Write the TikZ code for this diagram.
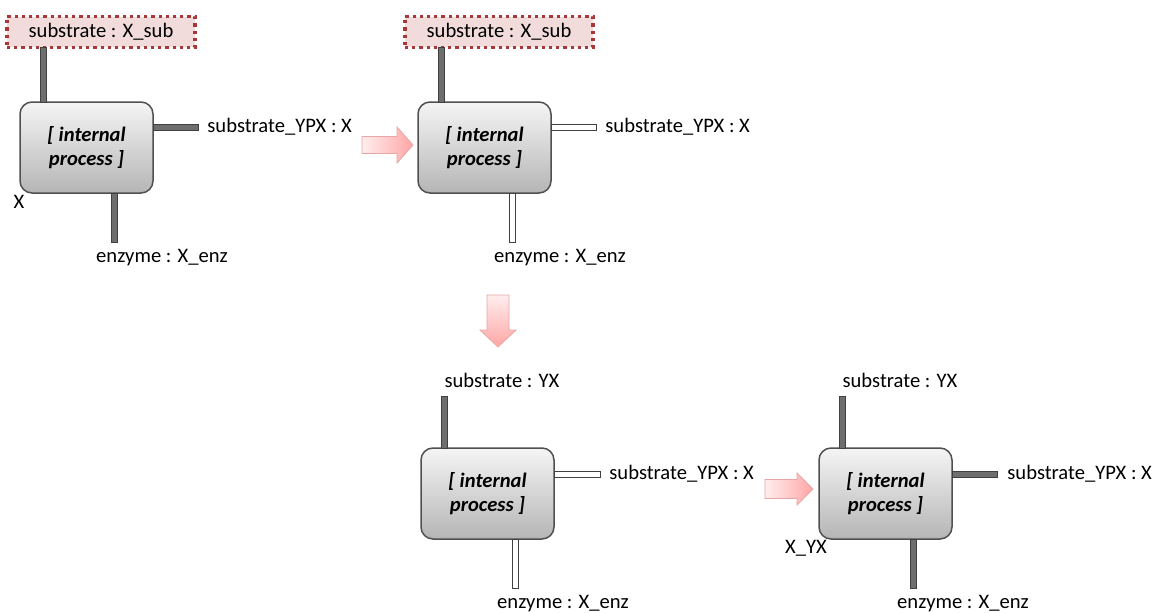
\documentclass[tikz,border=0pt]{standalone}
\usepackage{fontspec}
\setmainfont{Carlito}
\usepackage{tikz}

\definecolor{portdark}{HTML}{6E6E6E}
\definecolor{portline}{HTML}{404040}
\definecolor{boxline}{HTML}{505050}
\definecolor{subfill}{HTML}{F2DCDB}
\definecolor{subline}{HTML}{A83838}
\definecolor{arrowline}{HTML}{E8A6A6}

\tikzset{
	process/.style={draw=boxline,line width=0.75pt,rounded corners=6pt,
		top color=gray!8,bottom color=gray!58,
		minimum width=66.5pt,minimum height=45.5pt,align=center,
		font=\bfseries\itshape},
	varbox/.style={draw=subline,line width=1.6pt,dotted,fill=subfill,
		minimum width=94pt,minimum height=15pt},
	lbl/.style={inner sep=0pt},
	fullport/.style={fill=portdark,draw=portline,line width=0.5pt},
	emptyport/.style={fill=white,draw=portline,line width=0.5pt},
	step arrow/.style={draw=arrowline,line width=0.4pt},
}

\begin{document}
\fontsize{10.3}{11.6}\selectfont
\begin{tikzpicture}[x=0.5pt,y=-0.5pt]
	\useasboundingbox (0,0) rectangle (1153,612);

	% first state
	\node[varbox] (sub1) at (101,32) {substrate : X\_sub};
	\node[process] (b1) at (86.5,147.5) {[ internal\\process ]};
	\draw[fullport] (40,47) rectangle (46,102);
	\draw[fullport] (153,124) rectangle (198,130);
	\draw[fullport] (111,193) rectangle (117,242);
	\node[lbl,anchor=west] (ypx1) at (207,127) {substrate\_YPX : X};
	\node[lbl] (enz1) at (162,258) {enzyme : X\_enz};
	\node[lbl] (x1) at (19,202) {X};

	% second state
	\node[varbox] (sub2) at (499,32) {substrate : X\_sub};
	\node[process] (b2) at (484.5,147.5) {[ internal\\process ]};
	\draw[fullport] (438,47) rectangle (444,102);
	\draw[emptyport] (551,124) rectangle (596,130);
	\draw[emptyport] (509,193) rectangle (515,242);
	\node[lbl,anchor=west] (ypx2) at (605,127) {substrate\_YPX : X};
	\node[lbl] (enz2) at (560,258) {enzyme : X\_enz};

	% third state
	\node[lbl] (sub3) at (502,380) {substrate : YX};
	\node[process] (b3) at (487.5,493.5) {[ internal\\process ]};
	\draw[fullport] (441,396) rectangle (447,448);
	\draw[emptyport] (554,471) rectangle (600,477);
	\draw[emptyport] (512,539) rectangle (518,588);
	\node[lbl,anchor=west] (ypx3) at (609,474) {substrate\_YPX : X};
	\node[lbl] (enz3) at (563,604) {enzyme : X\_enz};

	% fourth state
	\node[lbl] (sub4) at (900,380) {substrate : YX};
	\node[process] (b4) at (885.5,493.5) {[ internal\\process ]};
	\draw[fullport] (839,396) rectangle (845,448);
	\draw[fullport] (952,471) rectangle (997,477);
	\draw[fullport] (910,539) rectangle (916,588);
	\node[lbl,anchor=west] (ypx4) at (1007,474) {substrate\_YPX : X};
	\node[lbl] (enz4) at (963,604) {enzyme : X\_enz};
	\node[lbl] (x4) at (806,548) {X\_YX};

	% steps
	\shade[step arrow,left color=red!7,right color=red!35]
		(362,136.5) -- (397,136.5) -- (397,127) -- (413,145) -- (397,163) -- (397,153.5) -- (362,153.5) -- cycle;
	\shade[step arrow,top color=red!7,bottom color=red!35]
		(487,295) -- (509,295) -- (509,330) -- (516,330) -- (498,347) -- (480,330) -- (487,330) -- cycle;
	\shade[step arrow,left color=red!7,right color=red!35]
		(765,479.5) -- (797,479.5) -- (797,473) -- (813,489) -- (797,505) -- (797,498.5) -- (765,498.5) -- cycle;
\end{tikzpicture}
\end{document}
